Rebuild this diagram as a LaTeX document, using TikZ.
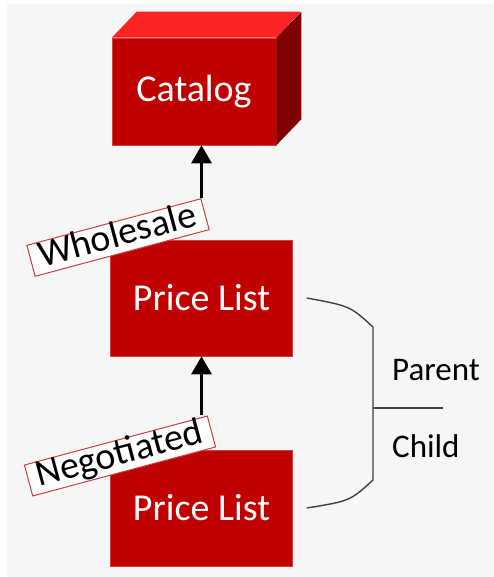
\documentclass[tikz,border=0pt]{standalone}
\usepackage{fontspec}
\setmainfont{Carlito}
\usetikzlibrary{arrows.meta}
\definecolor{boxred}{HTML}{C00000}
\definecolor{boxtop}{HTML}{FF2424}
\definecolor{boxside}{HTML}{800000}
\definecolor{paper}{HTML}{F6F6F6}
\definecolor{tagline}{HTML}{D03C3C}
\tikzset{pricebox/.style={rectangle, fill=boxred, draw=boxred!75!white, line width=0.6pt, text=white,
      minimum width=182pt, minimum height=116pt, font=\fontsize{38}{42}\selectfont}}
\tikzset{tag/.style={rectangle, fill=white, draw=tagline, line width=1pt, rotate=15, inner xsep=9pt,
      inner ysep=0pt, text height=25pt, text depth=7pt, font=\fontsize{38}{42}\selectfont}}
\tikzset{up/.style={line width=3pt, -{Triangle[width=20pt,length=18pt]}}}
\tikzset{bracket/.style={line width=1.4pt, draw=black!75}}

\begin{document}
\begin{tikzpicture}[x=1pt,y=-1pt]
    \fill[white] (0,0) rectangle (494,577);
    \fill[paper] (7,4) rectangle (494,577);
    \node[pricebox, minimum width=164pt, minimum height=107pt] (catalog) at (194,91.5) {Catalog};
    \fill[boxtop] (catalog.north west) -- ++(25,-26) -- ++(164,0) -- (catalog.north east) -- cycle;
    \fill[boxside] (catalog.north east) -- ++(25,-26) -- ([shift={(25,-26)}]catalog.south east)
      -- (catalog.south east) -- cycle;
    \node[pricebox] (pl1) at (201.5,298) {Price List};
    \node[pricebox] (pl2) at (201.5,508) {Price List};
    \node[tag] (wtag) at (118,237.5) {Wholesale};
    \node[tag] (ntag) at (120,456) {Negotiated};
    \draw[up] (pl1.center |- wtag.north east) -- (pl1.center |- catalog.south);
    \draw[up] (pl2.center |- ntag.north east) -- (pl2.center |- pl1.south);
    \coordinate (b1) at ([xshift=14pt]pl1.east);
    \coordinate (b2) at ([xshift=14pt]pl2.east);
    \coordinate (mid) at (373,408);
    \coordinate (midend) at (443,408);
    \draw[bracket] (b1) .. controls (350,306) .. (373,327) -- (373,480) .. controls (350,501) .. (b2);
    \draw[bracket] (mid) -- (midend);
    \node[anchor=base west, inner sep=0pt, font=\fontsize{33}{38}\selectfont] (parent) at (392,380) {Parent};
    \node[anchor=base west, inner sep=0pt, font=\fontsize{33}{38}\selectfont] (child) at (392,457) {Child};
\end{tikzpicture}
\end{document}
